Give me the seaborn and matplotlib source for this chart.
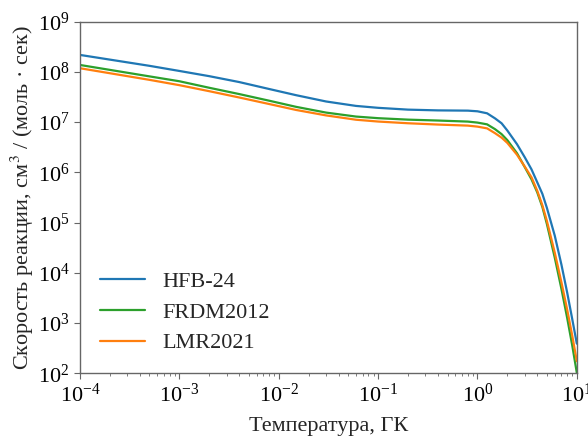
import numpy as np
import pandas as pd
import matplotlib
matplotlib.use("Agg")
import matplotlib.pyplot as plt
import matplotlib.ticker as mticker
import seaborn as sns

# Temperature grid (GK)
temperature = [1e-4, 5e-4, 1e-3, 2e-3, 4e-3, 8e-3, 0.015, 0.03, 0.06, 0.1, 0.2, 0.4,
               0.8, 1.0, 1.25, 1.5, 1.75, 2.0, 2.5, 3.0, 3.5, 4.0, 4.5, 5.0,
               6.0, 7.0, 8.0, 9.0, 10.0]
# log10 of reaction rates, cm^3 / (mol s)
hfb24_log = [8.337, 8.120, 8.018, 7.914, 7.797, 7.659, 7.535, 7.410, 7.322, 7.284,
             7.248, 7.233, 7.228, 7.215, 7.175, 7.075, 6.976, 6.831, 6.560, 6.296,
             6.058, 5.800, 5.572, 5.291, 4.738, 4.162, 3.605, 3.075, 2.590]
frdm2012_log = [8.137, 7.910, 7.813, 7.683, 7.558, 7.426, 7.303, 7.189, 7.110, 7.078,
                7.049, 7.031, 7.010, 6.990, 6.955, 6.860, 6.760, 6.640, 6.380, 6.100,
                5.860, 5.600, 5.310, 4.970, 4.300, 3.680, 3.100, 2.550, 2.010]
lmr2021_log = [8.072, 7.841, 7.735, 7.615, 7.490, 7.360, 7.241, 7.133, 7.047, 7.011,
               6.977, 6.951, 6.930, 6.910, 6.875, 6.780, 6.690, 6.585, 6.350, 6.110,
               5.900, 5.631, 5.345, 5.030, 4.400, 3.810, 3.265, 2.745, 2.240]
series_names = ["HFB-24", "FRDM2012", "LMR2021"]
colors = ["#1f77b4", "#2ca02c", "#ff7f0e"]

frames = []
for name, vals in zip(series_names, [hfb24_log, frdm2012_log, lmr2021_log]):
    frames.append(pd.DataFrame({"T": temperature, "rate": 10 ** np.array(vals), "model": name}))
df = pd.concat(frames, ignore_index=True)

sns.set_style("ticks")
plt.rcParams["font.family"] = ["Liberation Serif", "DejaVu Serif"]
plt.rcParams["mathtext.fontset"] = "stix"

fig = plt.figure(figsize=(5.88, 4.41), dpi=100)
ax = fig.add_axes([0.136, 0.1535, 0.845, 0.7975])

sns.lineplot(data=df, x="T", y="rate", hue="model", hue_order=series_names,
             palette=colors, linewidth=1.6, ax=ax)

ax.set_xscale("log")
ax.set_yscale("log")
ax.set_xlim(1e-4, 10)
ax.set_ylim(1e2, 1e9)
ax.yaxis.set_major_locator(mticker.LogLocator(base=10, numticks=20))
ax.yaxis.set_minor_locator(mticker.NullLocator())
ax.xaxis.set_major_locator(mticker.LogLocator(base=10, numticks=20))
ax.xaxis.set_minor_locator(mticker.LogLocator(base=10, subs=np.arange(2, 10), numticks=50))
ax.xaxis.set_minor_formatter(mticker.NullFormatter())

for s in ax.spines.values():
    s.set_visible(True)
    s.set_color("0.4")
    s.set_linewidth(1.0)
ax.tick_params(axis="both", which="major", colors="0.4", labelcolor="black",
               labelsize=16, length=4, direction="out")
ax.tick_params(axis="both", which="minor", colors="0.4", length=2.5, direction="out")

ax.set_xlabel("Температура, ГК", fontsize=16, labelpad=7)
ax.set_ylabel("Скорость реакции, см$^3$ / (моль · сек)", fontsize=16, labelpad=1)

leg = ax.legend(loc="lower left", frameon=False, fontsize=16, handlelength=2.03,
                handletextpad=0.78, labelspacing=0.45)

fig.savefig("out.png", dpi=100)
